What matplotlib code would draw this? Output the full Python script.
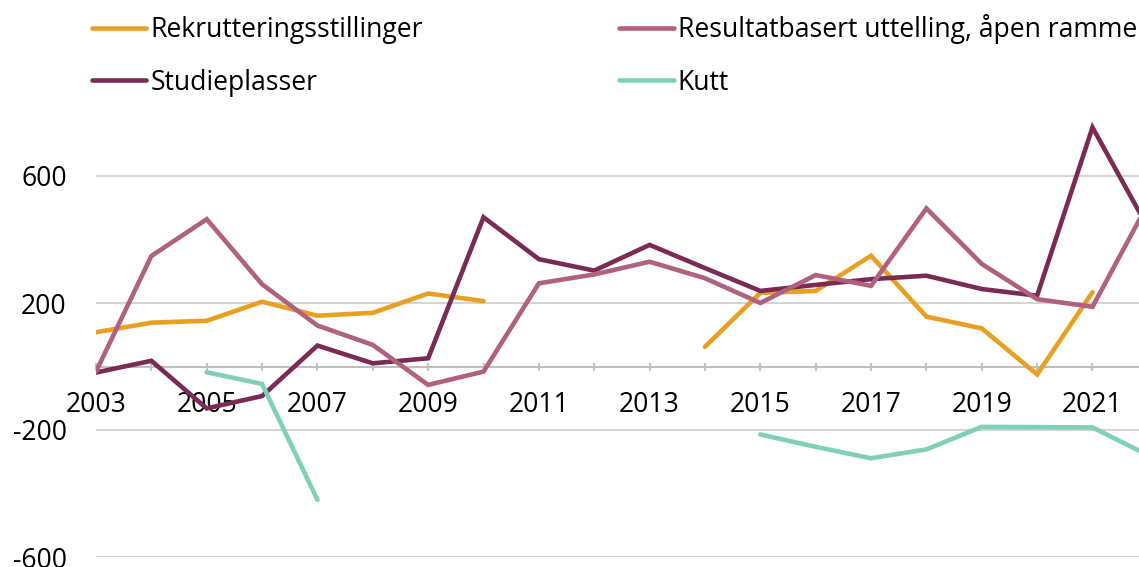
import matplotlib
matplotlib.use("Agg")
import matplotlib.pyplot as plt
import numpy as np

plt.rcParams['font.family'] = ['Open Sans', 'DejaVu Sans']

years = list(range(2003, 2023))

# None = no value that year
rekruttering = [108, 138, 144, 204, 160, 169, 230, 206, None, None, None,
                62, 232, 238, 349, 157, 120, -25, 234, None]
resultat = [-16, 348, 464, 259, 129, 68, -58, -16, 262, 290, 330,
            278, 200, 288, 254, 498, 323, 212, 188, 512]
studieplasser = [-19, 18, -132, -93, 66, 10, 26, 470, 338, 302, 383,
                 310, 238, 257, 275, 286, 244, 223, 753, 438]
kutt = [None, None, -18, -55, -420, None, None, None, None, None, None,
        None, -214, -253, -289, -261, -190, -191, -192, -279]

series = [
    ("Rekrutteringsstillinger", rekruttering, "#E8A023"),
    ("Studieplasser", studieplasser, "#7A2B55"),
    ("Resultatbasert uttelling, åpen ramme", resultat, "#B0617F"),
    ("Kutt", kutt, "#80D0B9"),
]

y_ticks = [-600, -200, 200, 600]
x_ticks = years
x_labels = [str(y) if (y - 2003) % 2 == 0 else "" for y in years]


def to_arr(vals):
    return np.array([np.nan if v is None else v for v in vals], dtype=float)


W, H = 1139, 567
fs = 19.1
fig = plt.figure(figsize=(W / 100, H / 100), dpi=100)
ax = fig.add_axes([96 / W, (H - 557) / H, (W - 96) / W, (557 - 112.5) / H])

for name, vals, col in series:
    ax.plot(years, to_arr(vals), color=col, lw=3.3, label=name,
            solid_capstyle='round', solid_joinstyle='miter')

for s in ['top', 'right', 'left']:
    ax.spines[s].set_visible(False)
ax.spines['bottom'].set_position(('data', 0))
ax.spines['bottom'].set_color('#BFBFBF')
ax.spines['bottom'].set_linewidth(1.5)
ax.spines['bottom'].set_zorder(0.5)

ax.set_yticks(y_ticks)
ax.set_yticklabels([str(v) for v in y_ticks])
ax.yaxis.grid(True, color='#D4D4D4', lw=1.5)
ax.set_axisbelow(True)
ax.tick_params(axis='y', length=0, pad=21, labelsize=fs)

ax.set_xticks(x_ticks)
ax.set_xticklabels(x_labels)
ax.tick_params(axis='x', direction='inout', length=6, width=1.3,
               color='#BFBFBF', pad=15, labelsize=fs)

# limits after set_xticks, otherwise the ticks widen the view
ax.set_xlim(2003, 2021.84)
ax.set_ylim(-600, 800)

handles, labels = ax.get_legend_handles_labels()
fig.legend(handles, labels, ncol=2, loc='upper left',
           bbox_to_anchor=(92 / W, 1 - 14 / H), frameon=False,
           fontsize=fs, handlelength=2.05, handletextpad=0.15,
           columnspacing=7.4, labelspacing=0.93, borderpad=0,
           borderaxespad=0)

fig.savefig("out.png", dpi=100)
